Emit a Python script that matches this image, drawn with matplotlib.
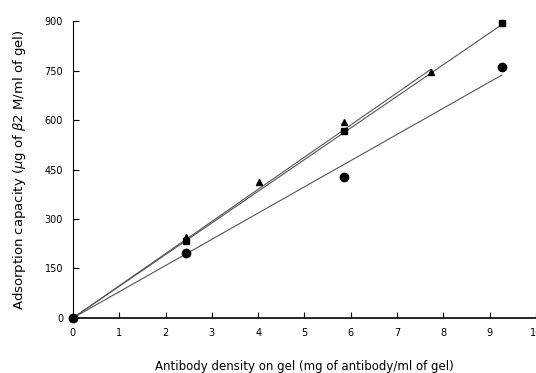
import matplotlib.pyplot as plt
import numpy as np

# antibody density (mg/ml gel) and adsorption capacity (ug b2M/ml gel)
x_tri = [0, 2.44, 4.02, 5.85, 7.73]
y_tri = [0, 245, 411, 593, 747]
x_sq = [0, 2.44, 5.85, 9.27]
y_sq = [0, 233, 568, 895]
x_circ = [0, 2.44, 5.85, 9.26]
y_circ = [0, 196, 428, 762]

# slopes of the fitted lines through origin
slope_tri = 97.5
slope_sq = 96.0
slope_circ = 79.5

xticks = [0, 1, 2, 3, 4, 5, 6, 7, 8, 9, 10]
yticks = [0, 150, 300, 450, 600, 750, 900]

fig = plt.figure(figsize=(5.36, 3.73), dpi=100)
ax = fig.add_axes([0.136, 0.1475, 0.864, 0.796])

lc = '#555555'
xx = np.array([0, max(x_tri)])
ax.plot(xx, slope_tri*xx, c=lc, lw=0.8, clip_on=False)
xx = np.array([0, max(x_sq)])
ax.plot(xx, slope_sq*xx, c=lc, lw=0.8, clip_on=False)
xx = np.array([0, max(x_circ)])
ax.plot(xx, slope_circ*xx, c=lc, lw=0.8, clip_on=False)

ax.plot(x_tri, y_tri, '^', c='k', ms=5, clip_on=False)
ax.plot(x_sq, y_sq, 's', c='k', ms=5, clip_on=False)
ax.plot(x_circ, y_circ, 'o', c='k', ms=6, clip_on=False)

ax.set_xlim(0, 10)
ax.set_ylim(0, 900)
ax.set_xticks(xticks)
ax.set_yticks(yticks)
ax.tick_params(direction='in', length=4, width=0.8, labelsize=7, pad=7)
ax.spines['top'].set_visible(False)
ax.spines['right'].set_visible(False)
ax.spines['bottom'].set_linewidth(1.2)
ax.spines['left'].set_linewidth(0.8)

ax.set_xlabel('Antibody density on gel (mg of antibody/ml of gel)', fontsize=8.5, labelpad=16)
ax.set_ylabel('Adsorption capacity ($\\mu$g of $\\beta$2 M/ml of gel)', fontsize=9.5, labelpad=12)

plt.savefig('out.png', dpi=100)
